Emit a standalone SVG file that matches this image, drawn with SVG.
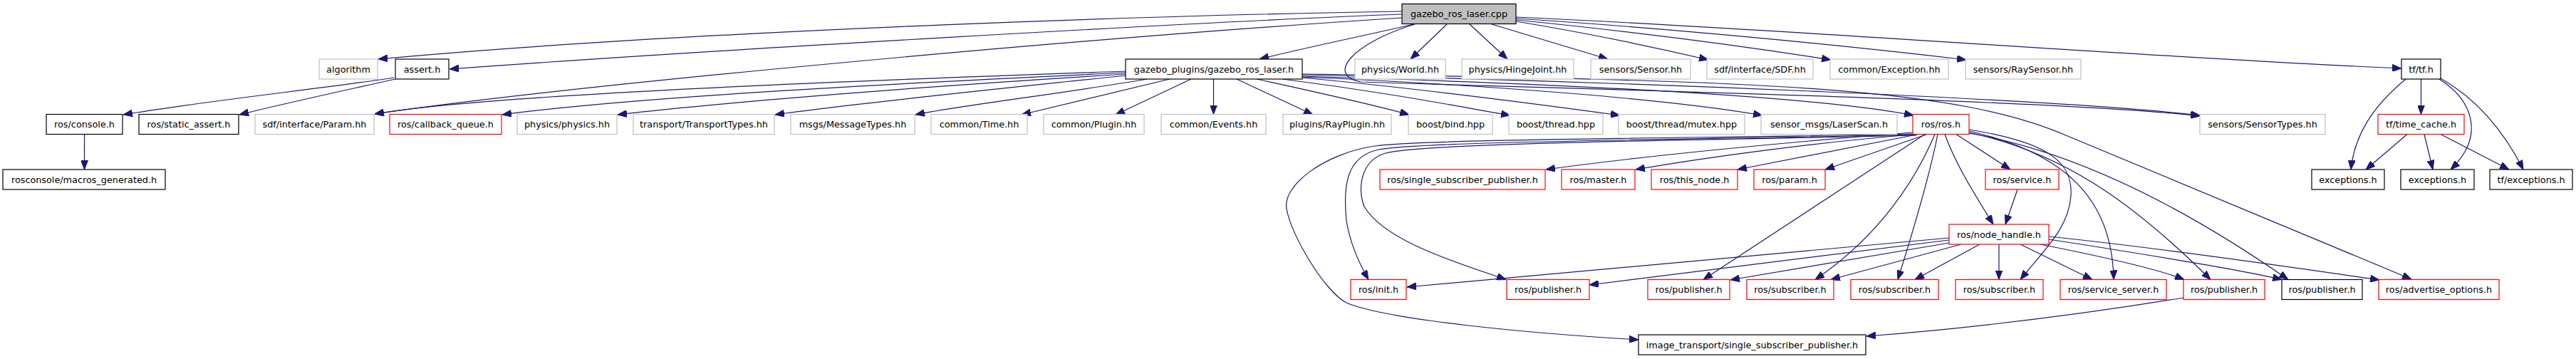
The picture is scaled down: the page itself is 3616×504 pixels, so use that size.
<svg xmlns="http://www.w3.org/2000/svg" width="3616" height="504" viewBox="0 0 3616 504">
<defs>
<marker id="a" markerWidth="13" markerHeight="10" refX="13" refY="5" orient="auto" markerUnits="userSpaceOnUse"><path d="M0,0 L13,5 L0,10 z" fill="#191970" stroke="#191970" stroke-width="1"/></marker>
<style>
rect{fill:#fff;stroke-width:1.2}
.g rect{stroke:#bfbfbf}
.b rect{stroke:#000}
.r rect{stroke:#ff0000}
.top rect{fill:#bfbfbf;stroke:#000}
text{font-family:"DejaVu Sans","Liberation Sans",sans-serif;font-size:12.8px;text-anchor:middle;fill:#000}
#edges path{fill:none;stroke:#191970;stroke-width:1.2;marker-end:url(#a)}
</style>
</defs>
<rect x="0" y="0" width="3616" height="504" style="fill:#fff;stroke:none"/>
<g id="edges">
<path d="M1968,16 C1700,20 1000,40 531,83"/>
<path d="M1968,20 C1700,30 1000,70 631,97"/>
<path d="M1968,25 C1500,55 800,120 526,160"/>
<path d="M1984,34 C1930,47 1840,65 1768,83"/>
<path d="M2031,34 L1980,83"/>
<path d="M2063,34 L2116,83"/>
<path d="M2094,34 L2257,83"/>
<path d="M2128,30 C2250,50 2330,68 2398,84"/>
<path d="M2128,28 C2300,45 2450,65 2570,84"/>
<path d="M2128,26 C2350,40 2600,65 2760,84"/>
<path d="M2128,24 C2500,40 3000,80 3371,96"/>
<path d="M1986,34 C1900,60 1860,105 1910,115 C2100,122 2900,140 3088,163"/>
<path d="M1580,100 C1300,110 700,130 526,160"/>
<path d="M1580,102 C1300,115 900,135 705,161"/>
<path d="M1580,104 C1350,118 1050,140 867,161"/>
<path d="M1580,106 C1400,125 1200,145 1088,161"/>
<path d="M1610,111 C1500,130 1350,148 1285,161"/>
<path d="M1642,111 L1434,161"/>
<path d="M1672,111 L1566,161"/>
<path d="M1703.5,111 L1703.5,160.5"/>
<path d="M1736,111 L1843,161"/>
<path d="M1764,111 C1850,130 1920,145 1978,161"/>
<path d="M1800,111 C1950,130 2050,150 2120,162"/>
<path d="M1828,109 C2000,125 2150,145 2274,162"/>
<path d="M1828,108 C2100,120 2350,140 2474,162"/>
<path d="M1828,107 C2200,118 2550,135 2686,162"/>
<path d="M1828,105 C2300,115 2900,140 3088,162"/>
<path d="M1828,104 C2500,112 2750,125 2900,190 L3385,392"/>
<path d="M553,109 C450,125 300,140 173,161"/>
<path d="M555,111 C470,130 400,145 336,161"/>
<path d="M118.5,188.5 L118.5,238"/>
<path d="M2685,186 C2500,200 2300,220 2170,238"/>
<path d="M2688,188.5 C2550,200 2400,220 2296,238"/>
<path d="M2693,188.5 L2439,238"/>
<path d="M2705,188.5 L2562,238"/>
<path d="M2746,188.5 L2822,238"/>
<path d="M2730,188.5 C2745,230 2770,270 2798,315"/>
<path d="M2702,188.5 L2391,392.5"/>
<path d="M2716,188.5 C2690,250 2640,330 2548,392.5"/>
<path d="M2720,188.5 C2712,230 2690,310 2664,392.5"/>
<path d="M2764,182 C2880,200 2910,230 2907,275 C2904,320 2870,350 2836,392.5"/>
<path d="M2764,184 C2900,215 2965,280 2967,392.5"/>
<path d="M2764,186 C2900,215 3000,290 3103,392.5"/>
<path d="M2764,187 C2900,210 3050,280 3212,392.5"/>
<path d="M2688,188 C2400,194 2000,195 1930,205 C1860,215 1800,260 1806,293 C1812,330 1860,410 1890,425 C1950,450 2150,468 2300,477"/>
<path d="M2688,189 C2400,196 2000,198 1935,210 C1890,220 1885,260 1890,310 C1895,340 1905,365 1921,392.5"/>
<path d="M2690,190 C2400,197 2000,200 1945,215 C1910,225 1905,265 1915,290 C1945,340 2050,370 2114,392.5"/>
<path d="M2736,334 L1975,403"/>
<path d="M2736,337 L2231,400"/>
<path d="M2736,341 L2429,393"/>
<path d="M2753,343 L2570,392.5"/>
<path d="M2779,343 L2688,392.5"/>
<path d="M2806,343 L2806,392.5"/>
<path d="M2836,343 L2937,392.5"/>
<path d="M2864,343 C2950,360 3030,378 3066,392.5"/>
<path d="M2876,336 C3000,355 3150,380 3203,392.5"/>
<path d="M2876,332 C3050,350 3250,380 3340,393"/>
<path d="M3065,418 C2900,445 2750,462 2620,472"/>
<path d="M2832,266 L2815,315"/>
<path d="M3398.5,111 L3398.5,160.5"/>
<path d="M3377,111 C3330,150 3305,190 3300,238"/>
<path d="M3424,111 C3470,140 3490,190 3440,238"/>
<path d="M3426,110 C3470,135 3510,175 3542,238"/>
<path d="M3379,188.5 L3321,238"/>
<path d="M3403,188.5 L3415,238"/>
<path d="M3426,188.5 L3522,238"/>
</g>
<g id="n1" class="top"><rect x="1968" y="5.5" width="160" height="28"/><text x="2048" y="24">gazebo_ros_laser.cpp</text></g>
<g id="n2" class="g"><rect x="448" y="83" width="82" height="28"/><text x="489" y="101.5">algorithm</text></g>
<g id="n3" class="b"><rect x="555" y="83" width="75" height="28"/><text x="592.5" y="101.5">assert.h</text></g>
<g id="n4" class="b"><rect x="1580" y="83" width="248" height="28"/><text x="1704" y="101.5">gazebo_plugins/gazebo_ros_laser.h</text></g>
<g id="n5" class="g"><rect x="1902" y="83" width="127" height="28"/><text x="1965.5" y="101.5">physics/World.hh</text></g>
<g id="n6" class="g"><rect x="2052" y="83" width="157" height="28"/><text x="2130.5" y="101.5">physics/HingeJoint.hh</text></g>
<g id="n7" class="g"><rect x="2233" y="83" width="140" height="28"/><text x="2303" y="101.5">sensors/Sensor.hh</text></g>
<g id="n8" class="g"><rect x="2396" y="83" width="149" height="28"/><text x="2470.5" y="101.5">sdf/interface/SDF.hh</text></g>
<g id="n9" class="g"><rect x="2569" y="83" width="166" height="28"/><text x="2652" y="101.5">common/Exception.hh</text></g>
<g id="n10" class="g"><rect x="2759" y="83" width="162" height="28"/><text x="2840" y="101.5">sensors/RaySensor.hh</text></g>
<g id="n11" class="b"><rect x="3371" y="83" width="55" height="28"/><text x="3398.5" y="101.5">tf/tf.h</text></g>
<g id="n12" class="b"><rect x="65" y="160.5" width="107" height="28"/><text x="118.5" y="179">ros/console.h</text></g>
<g id="n13" class="b"><rect x="195" y="160.5" width="140" height="28"/><text x="265" y="179">ros/static_assert.h</text></g>
<g id="n14" class="g"><rect x="358" y="160.5" width="167" height="28"/><text x="441.5" y="179">sdf/interface/Param.hh</text></g>
<g id="n15" class="r"><rect x="547" y="160.5" width="157" height="28"/><text x="625.5" y="179">ros/callback_queue.h</text></g>
<g id="n16" class="g"><rect x="726" y="160.5" width="140" height="28"/><text x="796" y="179">physics/physics.hh</text></g>
<g id="n17" class="g"><rect x="889" y="160.5" width="198" height="28"/><text x="988" y="179">transport/TransportTypes.hh</text></g>
<g id="n18" class="g"><rect x="1110" y="160.5" width="174" height="28"/><text x="1197" y="179">msgs/MessageTypes.hh</text></g>
<g id="n19" class="g"><rect x="1307" y="160.5" width="135" height="28"/><text x="1374.5" y="179">common/Time.hh</text></g>
<g id="n20" class="g"><rect x="1465" y="160.5" width="141" height="28"/><text x="1535.5" y="179">common/Plugin.hh</text></g>
<g id="n21" class="g"><rect x="1630" y="160.5" width="147" height="28"/><text x="1703.5" y="179">common/Events.hh</text></g>
<g id="n22" class="g"><rect x="1801" y="160.5" width="152" height="28"/><text x="1877" y="179">plugins/RayPlugin.hh</text></g>
<g id="n23" class="g"><rect x="1977" y="160.5" width="118" height="28"/><text x="2036" y="179">boost/bind.hpp</text></g>
<g id="n24" class="g"><rect x="2118" y="160.5" width="132" height="28"/><text x="2184" y="179">boost/thread.hpp</text></g>
<g id="n25" class="g"><rect x="2272" y="160.5" width="177" height="28"/><text x="2360.5" y="179">boost/thread/mutex.hpp</text></g>
<g id="n26" class="g"><rect x="2472" y="160.5" width="191" height="28"/><text x="2567.5" y="179">sensor_msgs/LaserScan.h</text></g>
<g id="n27" class="r"><rect x="2685" y="160.5" width="79" height="28"/><text x="2724.5" y="179">ros/ros.h</text></g>
<g id="n28" class="g"><rect x="3088" y="160.5" width="176" height="28"/><text x="3176" y="179">sensors/SensorTypes.hh</text></g>
<g id="n29" class="r"><rect x="3338" y="160.5" width="121" height="28"/><text x="3398.5" y="179">tf/time_cache.h</text></g>
<g id="n30" class="b"><rect x="4" y="238" width="228" height="28"/><text x="118" y="256.5">rosconsole/macros_generated.h</text></g>
<g id="n31" class="r"><rect x="1937" y="238" width="232" height="28"/><text x="2053" y="256.5">ros/single_subscriber_publisher.h</text></g>
<g id="n32" class="r"><rect x="2192" y="238" width="103" height="28"/><text x="2243.5" y="256.5">ros/master.h</text></g>
<g id="n33" class="r"><rect x="2318" y="238" width="121" height="28"/><text x="2378.5" y="256.5">ros/this_node.h</text></g>
<g id="n34" class="r"><rect x="2462" y="238" width="100" height="28"/><text x="2512" y="256.5">ros/param.h</text></g>
<g id="n35" class="r"><rect x="2787" y="238" width="103" height="28"/><text x="2838.5" y="256.5">ros/service.h</text></g>
<g id="n36" class="b"><rect x="3245" y="238" width="102" height="28"/><text x="3296" y="256.5">exceptions.h</text></g>
<g id="n37" class="b"><rect x="3370" y="238" width="103" height="28"/><text x="3421.5" y="256.5">exceptions.h</text></g>
<g id="n38" class="b"><rect x="3495" y="238" width="116" height="28"/><text x="3553" y="256.5">tf/exceptions.h</text></g>
<g id="n39" class="r"><rect x="2736" y="315" width="140" height="28"/><text x="2806" y="333.5">ros/node_handle.h</text></g>
<g id="n40" class="r"><rect x="1896" y="392.5" width="78" height="28"/><text x="1935" y="411">ros/init.h</text></g>
<g id="n41" class="r"><rect x="2115" y="392.5" width="116" height="28"/><text x="2173" y="411">ros/publisher.h</text></g>
<g id="n42" class="r"><rect x="2313" y="392.5" width="115" height="28"/><text x="2370.5" y="411">ros/publisher.h</text></g>
<g id="n43" class="r"><rect x="2452" y="392.5" width="122" height="28"/><text x="2513" y="411">ros/subscriber.h</text></g>
<g id="n44" class="r"><rect x="2598" y="392.5" width="123" height="28"/><text x="2659.5" y="411">ros/subscriber.h</text></g>
<g id="n45" class="r"><rect x="2745" y="392.5" width="123" height="28"/><text x="2806.5" y="411">ros/subscriber.h</text></g>
<g id="n46" class="r"><rect x="2892" y="392.5" width="149" height="28"/><text x="2966.5" y="411">ros/service_server.h</text></g>
<g id="n47" class="r"><rect x="3065" y="392.5" width="114" height="28"/><text x="3122" y="411">ros/publisher.h</text></g>
<g id="n48" class="b"><rect x="3203" y="392.5" width="113" height="28"/><text x="3259.5" y="411">ros/publisher.h</text></g>
<g id="n49" class="r"><rect x="3339" y="392.5" width="169" height="28"/><text x="3423.5" y="411">ros/advertise_options.h</text></g>
<g id="n50" class="b"><rect x="2300" y="470" width="319" height="28"/><text x="2459.5" y="488.5">image_transport/single_subscriber_publisher.h</text></g>
</svg>
